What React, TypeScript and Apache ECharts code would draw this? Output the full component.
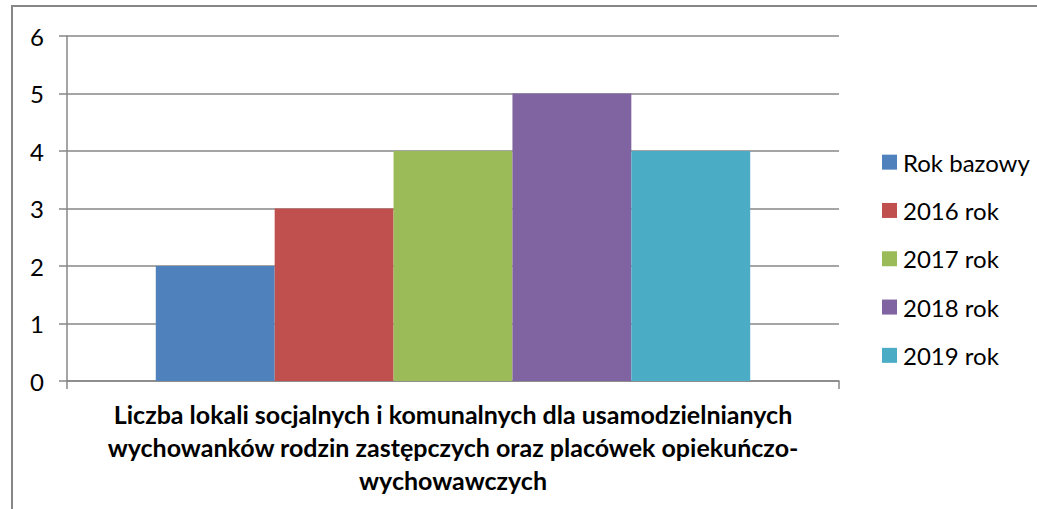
import React, { useEffect, useRef } from "react";
import * as echarts from "echarts";

const categories: string[] = [
  "Liczba lokali socjalnych i komunalnych dla usamodzielnianych\nwychowanków rodzin zastępczych oraz placówek opiekuńczo-\nwychowawczych",
];
const seriesNames: string[] = ["Rok bazowy", "2016 rok", "2017 rok", "2018 rok", "2019 rok"];
const seriesValues: number[][] = [[2], [3], [4], [5], [4]];
const seriesColors: string[] = ["#4F81BD", "#C0504D", "#9BBB59", "#8064A2", "#4BACC6"];
const yTicks = { min: 0, max: 6, interval: 1 };

const FONT = "Lato, 'Open Sans', sans-serif";
const GRAY = "#878787";

export default function App() {
  const ref = useRef<HTMLDivElement>(null);
  useEffect(() => {
    document.body.style.margin = "0";
    if (!ref.current) return;
    const chart = echarts.init(ref.current, null, { renderer: "svg" });
    chart.setOption({
      animation: false,
      backgroundColor: "#ffffff",
      textStyle: { fontFamily: FONT },
      graphic: [
        {
          type: "rect",
          shape: { x: 12, y: 6, width: 1100, height: 600 },
          style: { fill: "none", stroke: GRAY, lineWidth: 2 },
          silent: true,
        },
      ],
      grid: { left: 67, right: 198, top: 36, bottom: 128 },
      legend: {
        orient: "vertical",
        left: 877,
        top: 145,
        icon: "rect",
        itemWidth: 15,
        itemHeight: 15,
        itemGap: 24,
        textStyle: {
          fontFamily: FONT,
          fontSize: 24,
          color: "#000",
          lineHeight: 24.3,
          padding: [0, 0, 0, 1],
        },
        data: seriesNames,
      },
      xAxis: {
        type: "category",
        data: categories,
        axisLine: { show: true, lineStyle: { color: GRAY, width: 1.5 } },
        axisTick: { show: true, length: 8, lineStyle: { color: GRAY, width: 1.5 } },
        axisLabel: {
          margin: 16,
          fontFamily: FONT,
          fontSize: 25,
          fontWeight: "bold",
          color: "#000",
          lineHeight: 33,
          align: "center",
        },
      },
      yAxis: {
        type: "value",
        min: yTicks.min,
        max: yTicks.max,
        interval: yTicks.interval,
        axisLine: { show: true, lineStyle: { color: GRAY, width: 1.5 } },
        axisTick: { show: true, length: 8, lineStyle: { color: GRAY, width: 1.5 } },
        splitLine: { show: true, lineStyle: { color: GRAY, width: 1.5 } },
        axisLabel: { margin: 23, fontFamily: FONT, fontSize: 24, color: "#000" },
      },
      series: seriesNames.map((name, i) => ({
        name,
        type: "bar",
        data: seriesValues[i],
        barGap: "0%",
        barCategoryGap: "23%",
        itemStyle: { color: seriesColors[i] },
      })),
    });
    return () => chart.dispose();
  }, []);
  return <div ref={ref} style={{ width: 1037, height: 509 }} />;
}
